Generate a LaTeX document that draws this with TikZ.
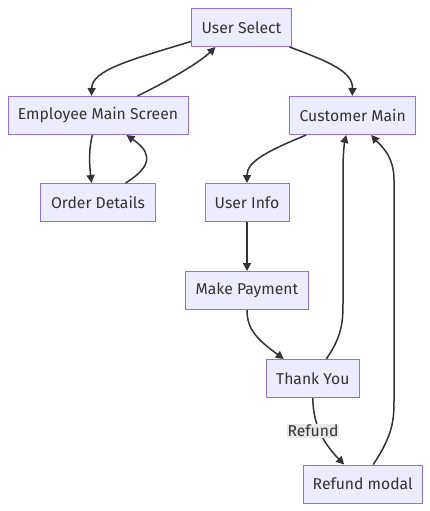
\documentclass[tikz,border=0pt]{standalone}
\usepackage{fontspec}
\setmainfont{Fira Sans}
\usetikzlibrary{arrows.meta,calc}
\definecolor{nodefill}{HTML}{ECECFF}
\definecolor{nodeline}{HTML}{9370DB}
\definecolor{ink}{HTML}{333333}
\definecolor{lblbg}{HTML}{E8E8E8}
\begin{document}
\begin{tikzpicture}[x=1pt,y=-1pt,
  box/.style={draw=nodeline,fill=nodefill,line width=1pt,text=ink,inner sep=0pt,
    minimum height=38pt,font=\fontsize{15.7}{18}\selectfont},
  edge/.style={draw=ink,line width=1.5pt,-{Triangle[length=8pt,width=8pt]}},
  lbl/.style={fill=lblbg,text=ink,inner sep=1pt,font=\fontsize{15.7}{18}\selectfont}]
\useasboundingbox (0,0) rectangle (430,511);
\node[box,minimum width=100pt] (us) at (241.5,27.5) {User Select};
\node[box,minimum width=180pt] (ems) at (98,115.5) {Employee Main Screen};
\node[box,minimum width=126pt] (cm) at (352.7,115.5) {Customer Main};
\node[box,minimum width=115pt] (od) at (98,202.5) {Order Details};
\node[box,minimum width=84pt] (ui) at (247,202.5) {User Info};
\node[box,minimum width=123pt] (mp) at (247,290.5) {Make Payment};
\node[box,minimum width=93pt] (ty) at (312.8,378.5) {Thank You};
\node[box,minimum width=119pt] (rm) at (362.7,484) {Refund modal};
% edges
\draw[edge] ($(us.west)+(0,14)$) .. controls (130,60) and (92,70) .. ($(ems.north west)+(84,0)$);
\draw[edge] ($(ems.north west)+(130,0)$) .. controls (170,80) and (200,62) .. ($(us.south west)+(24.5,0)$);
\draw[edge] ($(us.south west)+(98.5,0)$) .. controls (330,62) and (353,72) .. ($(cm.north west)+(63,0)$);
\draw[edge] ($(ems.south west)+(85,0)$) .. controls (88,150) and (90,170) .. ($(od.north west)+(51.5,0)$);
\draw[edge] ($(od.north west)+(85.5,0)$) .. controls (160,162) and (145,148) .. ($(ems.south west)+(119,0)$);
\draw[edge] ($(cm.south west)+(17,0)$) .. controls (265,152) and (247,162) .. (ui.north);
\draw[edge] (ui.south) -- (mp.north);
\draw[edge] (mp.south) .. controls (247,330) and (258,340) .. ($(ty.north west)+(18,0)$);
\draw[edge] ($(ty.north west)+(60.5,0)$) .. controls (343,335) and (343,320) .. (343,300) -- (343,170) .. controls (343,150) and (345,140) .. ($(cm.south west)+(57,0)$);
\draw[edge] ($(rm.north west)+(70.5,0)$) .. controls (393,435) and (394,420) .. (394,400) -- (394,180) .. controls (394,155) and (380,145) .. ($(cm.south west)+(82,0)$);
\draw[edge] (ty.south) .. controls (313,420) and (320,440) .. ($(rm.north west)+(41.5,0)$);
\node[lbl] (reflbl) at (313,431) {Refund};
\end{tikzpicture}
\end{document}
